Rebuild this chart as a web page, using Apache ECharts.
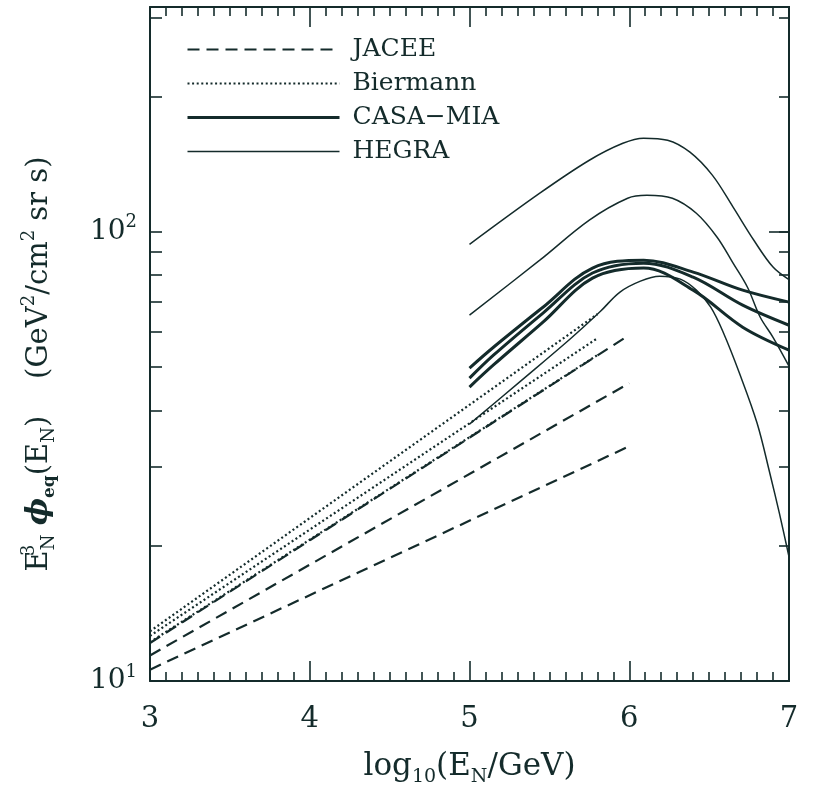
<!DOCTYPE html>
<html>
<head>
<meta charset="utf-8">
<script src="https://cdn.jsdelivr.net/npm/echarts@6/dist/echarts.min.js"></script>
<style>
  html, body { margin: 0; padding: 0; background: #ffffff; }
  #chart { width: 813px; height: 786px; }
</style>
</head>
<body>
<div id="chart"></div>
<script>
// Equivalent nucleon flux E^3 phi(E) versus log10(E/GeV), points as [log10 E, flux]
const JACEE_1 = [[3, 12.15], [6, 58.9]];
const JACEE_2 = [[3, 11.4], [6, 46.0]];
const JACEE_3 = [[3, 10.6], [6, 33.3]];

const BIERMANN_1 = [[3, 12.9], [5.8, 65.5]];
const BIERMANN_2 = [[3, 12.6], [5.8, 57.9]];
const BIERMANN_3 = [[3, 12.2], [5.8, 53.1]];

const CASA_1 = [[5.0, 49.7], [5.15, 55.3], [5.46, 67.9], [5.77, 83.0], [6.09, 86.4], [6.4, 81.3], [6.71, 74.1], [7.0, 69.7]];
const CASA_2 = [[5.0, 47.2], [5.15, 53.1], [5.46, 65.9], [5.77, 80.9], [6.09, 85.1], [6.4, 79.2], [6.71, 68.6], [7.0, 61.9]];
const CASA_3 = [[5.0, 45.1], [5.15, 50.5], [5.46, 62.9], [5.77, 78.8], [6.09, 83.0], [6.4, 74.1], [6.71, 61.3], [7.0, 54.5]];

const HEGRA_1 = [[5.0, 93.7], [5.44, 121.8], [5.75, 144.2], [5.96, 157.3], [6.09, 161.5], [6.24, 159.8], [6.38, 150.3],
                 [6.52, 133.6], [6.65, 113.4], [6.78, 95.7], [6.9, 83.4], [7.0, 78.2]];
const HEGRA_2 = [[5.0, 65.2], [5.44, 86.4], [5.75, 106.1], [5.99, 118.7], [6.11, 120.5], [6.27, 118.7], [6.42, 109.9],
                 [6.55, 97.2], [6.65, 85.1], [6.74, 75.2], [6.82, 64.5], [6.9, 58.2], [7.0, 50.2]];
const HEGRA_3 = [[5.0, 37.3], [5.32, 46.5], [5.63, 57.7], [5.82, 66.5], [5.94, 73.3], [6.07, 77.6], [6.19, 79.6],
                 [6.32, 78.4], [6.42, 74.1], [6.51, 67.9], [6.59, 59.5], [6.69, 48.4], [6.8, 37.5], [6.88, 29.0],
                 [6.94, 23.6], [7.0, 18.9]];

const LEGEND_NAMES = ['JACEE', 'Biermann', 'CASA\u2212MIA', 'HEGRA'];
const X_RANGE = [3, 7];
const Y_RANGE = [10, 316.23];
const Y_TICKS = [10, 20, 30, 40, 50, 60, 70, 80, 90, 100, 200, 300];
const Y_DECADES = [10, 100];

const INK = '#142b2b';
const FONT = 'DejaVu Serif';

const chart = echarts.init(document.getElementById('chart'), null, { renderer: 'canvas' });

const dashed = { width: 2.2, type: [12, 7] };
const dotted = { width: 2.2, type: [2, 2.6] };
const thick = { width: 3 };
const thin = { width: 1.5 };

function curve(name, data, lineStyle, smooth) {
  return {
    type: 'line', name: name, data: data,
    xAxisIndex: 0, yAxisIndex: 0,
    symbol: 'none', showSymbol: false, smooth: smooth || false, silent: true,
    lineStyle: Object.assign({ color: INK }, lineStyle),
    itemStyle: { color: INK }
  };
}

const frameLine = { show: true, onZero: false, lineStyle: { color: INK, width: 2 } };

function xAxisDef(pos, withLabels) {
  return {
    type: 'value', position: pos, min: X_RANGE[0], max: X_RANGE[1], interval: 1,
    axisLine: frameLine,
    axisTick: { show: true, inside: true, length: 20, lineStyle: { color: INK, width: 1.6 } },
    minorTick: { show: true, splitNumber: 10, length: 9, lineStyle: { color: INK, width: 1.6 } },
    splitLine: { show: false }, minorSplitLine: { show: false },
    axisLabel: withLabels ? { show: true, fontFamily: FONT, fontSize: 29, color: INK, margin: 24 } : { show: false }
  };
}

function yAxisDef(pos, ticks, len, extra) {
  return Object.assign({
    type: 'log', logBase: 10, position: pos, min: Y_RANGE[0], max: Y_RANGE[1],
    axisLine: frameLine,
    axisTick: { show: true, inside: true, length: len, customValues: ticks, lineStyle: { color: INK, width: 1.6 } },
    splitLine: { show: false },
    axisLabel: { show: false }
  }, extra || {});
}

function legendEntry(name, style) {
  return { name: name, lineStyle: Object.assign({ color: INK }, style) };
}

const option = {
  backgroundColor: '#ffffff',
  animation: false,
  grid: { left: 150, right: 24, top: 7, bottom: 105, containLabel: false, outerBoundsMode: 'none' },
  legend: {
    data: [
      legendEntry(LEGEND_NAMES[0], dashed),
      legendEntry(LEGEND_NAMES[1], dotted),
      legendEntry(LEGEND_NAMES[2], thick),
      legendEntry(LEGEND_NAMES[3], thin)
    ],
    orient: 'vertical', left: 181, top: 32,
    itemWidth: 152, itemHeight: 14, itemGap: 9,
    selectedMode: false,
    itemStyle: { opacity: 0 },
    textStyle: { fontFamily: FONT, fontSize: 25, color: INK, padding: [0, 0, 0, 8] }
  },
  xAxis: [
    Object.assign(xAxisDef('bottom', true), {
      name: '{t|log}{s|10}{t|(E}{s|N}{t|/GeV)}',
      nameLocation: 'middle', nameGap: 66,
      nameTextStyle: {
        color: INK,
        rich: {
          t: { fontFamily: FONT, fontSize: 31, lineHeight: 40, color: INK },
          s: { fontFamily: FONT, fontSize: 19, lineHeight: 19, verticalAlign: 'bottom', color: INK }
        }
      }
    }),
    xAxisDef('top', false)
  ],
  yAxis: [
    yAxisDef('left', Y_TICKS, 12, {
      axisLabel: {
        show: true, customValues: Y_DECADES, margin: 13,
        formatter: function (v) { return '{b|10}{p|' + Math.round(Math.log10(v)) + '}'; },
        rich: {
          b: { fontFamily: FONT, fontSize: 28, lineHeight: 36, color: INK },
          p: { fontFamily: FONT, fontSize: 18, lineHeight: 18, verticalAlign: 'top', color: INK }
        }
      },
      name: '{t|E}{sup|3}{sub|N}{t| }{phi|\u03D5}{sub2|eq}{t|(E}{sub|N}{t|)}{t|    (GeV}{sup2|2}{t|/cm}{sup2|2}{t| sr s)}{pad| }',
      nameLocation: 'middle', nameRotate: 90, nameGap: 92,
      nameTextStyle: {
        color: INK,
        rich: {
          t: { fontFamily: FONT, fontSize: 29, lineHeight: 38, color: INK },
          phi: { fontFamily: FONT, fontSize: 29, lineHeight: 38, fontStyle: 'italic', fontWeight: 'bold', color: INK },
          sup: { fontFamily: FONT, fontSize: 18, lineHeight: 18, verticalAlign: 'top', width: 0, color: INK },
          sub: { fontFamily: FONT, fontSize: 18, lineHeight: 18, verticalAlign: 'bottom', color: INK },
          sub2: { fontFamily: FONT, fontSize: 17, lineHeight: 17, verticalAlign: 'bottom', fontWeight: 'bold', color: INK },
          sup2: { fontFamily: FONT, fontSize: 18, lineHeight: 18, verticalAlign: 'top', color: INK },
          pad: { fontSize: 10, width: 40 }
        }
      }
    }),
    yAxisDef('right', Y_TICKS, 10),
    yAxisDef('right', Y_DECADES, 20)
  ],
  series: [
    curve(LEGEND_NAMES[0], JACEE_1, dashed),
    curve(LEGEND_NAMES[0], JACEE_2, dashed),
    curve(LEGEND_NAMES[0], JACEE_3, dashed),
    curve(LEGEND_NAMES[1], BIERMANN_1, dotted),
    curve(LEGEND_NAMES[1], BIERMANN_2, dotted),
    curve(LEGEND_NAMES[1], BIERMANN_3, dotted),
    curve(LEGEND_NAMES[2], CASA_1, thick, 0.35),
    curve(LEGEND_NAMES[2], CASA_2, thick, 0.35),
    curve(LEGEND_NAMES[2], CASA_3, thick, 0.35),
    curve(LEGEND_NAMES[3], HEGRA_1, thin, 0.35),
    curve(LEGEND_NAMES[3], HEGRA_2, thin, 0.35),
    curve(LEGEND_NAMES[3], HEGRA_3, thin, 0.35)
  ]
};

chart.setOption(option);
</script>
</body>
</html>
